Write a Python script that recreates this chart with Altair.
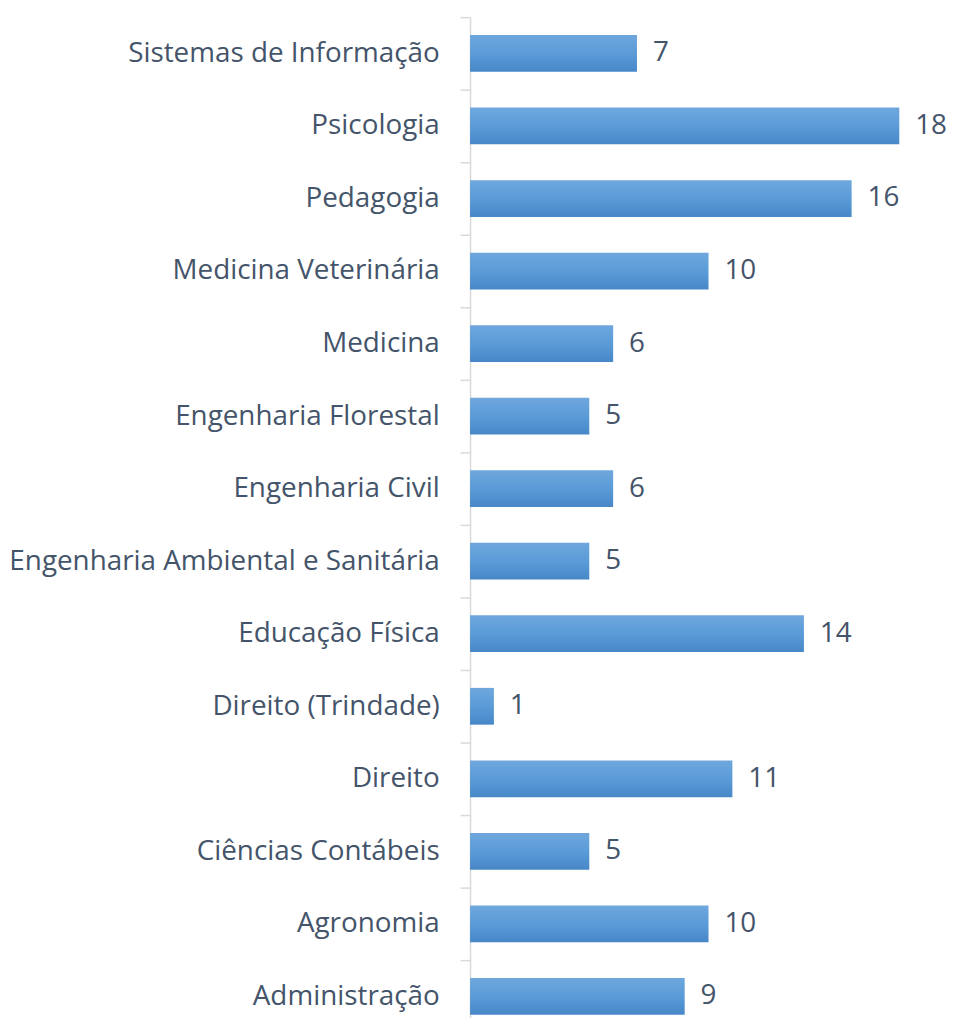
import altair as alt
import pandas as pd

categories = [
    "Sistemas de Informação",
    "Psicologia",
    "Pedagogia",
    "Medicina Veterinária",
    "Medicina",
    "Engenharia Florestal",
    "Engenharia Civil",
    "Engenharia Ambiental e Sanitária",
    "Educação Física",
    "Direito (Trindade)",
    "Direito",
    "Ciências Contábeis",
    "Agronomia",
    "Administração",
]
values = [7, 18, 16, 10, 6, 5, 6, 5, 14, 1, 11, 5, 10, 9]

df = pd.DataFrame({"curso": categories, "valor": values})

FONT = "Open Sans"
FS = 28
TXT = "#44546A"

y_enc = alt.Y(
    "curso:N",
    sort=categories,
    scale=alt.Scale(paddingInner=0, paddingOuter=0),
    axis=alt.Axis(
        title=None,
        labelFont=FONT,
        labelFontSize=FS,
        labelColor=TXT,
        labelLimit=0,
        labelPadding=21,
        tickSize=10,
        tickColor="#D9D9D9",
        tickWidth=1.5,
        tickBand="extent",
        domainColor="#D9D9D9",
        domainWidth=1.5,
        grid=False,
    ),
)
x_enc = alt.X("valor:Q", scale=alt.Scale(domain=[0, 20], nice=False), axis=None)

bars = alt.Chart(df).mark_bar(
    height=37,
    color=alt.Gradient(
        gradient="linear",
        stops=[
            alt.GradientStop(color="#6FA7DD", offset=0),
            alt.GradientStop(color="#5A9BD8", offset=0.5),
            alt.GradientStop(color="#4787C7", offset=1),
        ],
        x1=0, x2=0, y1=0, y2=1,
    ),
).encode(x=x_enc, y=y_enc)

labels = alt.Chart(df).mark_text(
    align="left", baseline="middle", dx=16, font=FONT, fontSize=FS, color=TXT
).encode(x=x_enc, y=alt.Y("curso:N", sort=categories), text="valor:Q")

chart = (
    alt.layer(bars, labels)
    .properties(
        width=480,
        height=1022,
        autosize=alt.AutoSizeParams(type="none"),
        padding={"left": 465, "top": 6, "right": 0, "bottom": -18},
    )
    .configure_view(stroke=None)
)

chart.save("out.html", embed_options={"renderer": "svg", "actions": False})
